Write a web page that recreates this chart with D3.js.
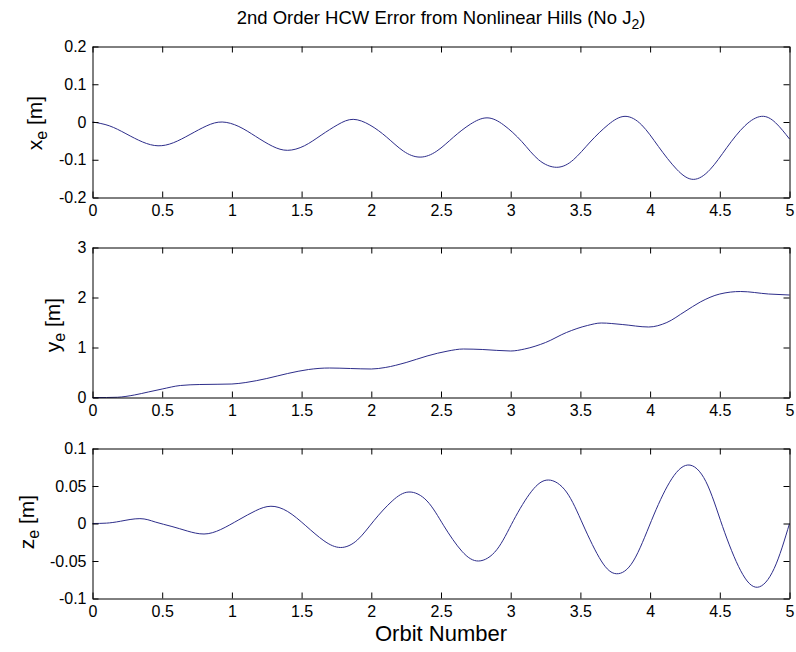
<!DOCTYPE html>
<html><head><meta charset="utf-8">
<script src="https://cdn.jsdelivr.net/npm/d3@7"></script>
<style>
body{margin:0;background:#fff}
svg text{font-family:"Liberation Sans",Arial,Helvetica,sans-serif;fill:#000}
</style>
</head><body>
<svg id="chart" width="796" height="652"></svg>
<script>
// ---------- data ----------
const orbitTicks = [0, 0.5, 1, 1.5, 2, 2.5, 3, 3.5, 4, 4.5, 5];
const orbitTickLabels = ["0", "0.5", "1", "1.5", "2", "2.5", "3", "3.5", "4", "4.5", "5"];

const xeTicks = [-0.2, -0.1, 0, 0.1, 0.2];
const xeTickLabels = ["-0.2", "-0.1", "0", "0.1", "0.2"];
const yeTicks = [0, 1, 2, 3];
const yeTickLabels = ["0", "1", "2", "3"];
const zeTicks = [-0.1, -0.05, 0, 0.05, 0.1];
const zeTickLabels = ["-0.1", "-0.05", "0", "0.05", "0.1"];

const xeOrbit = [0, 0.12, 0.24, 0.36, 0.47, 0.58, 0.70, 0.82, 0.93, 1.05, 1.17, 1.29, 1.40, 1.52, 1.64, 1.76, 1.87, 1.99, 2.11, 2.23, 2.35, 2.47, 2.59, 2.71, 2.83, 2.95, 3.08, 3.20, 3.33, 3.45, 3.57, 3.70, 3.82, 3.94, 4.06, 4.19, 4.31, 4.43, 4.55, 4.68, 4.80, 4.90, 5.0];
const xeValues = [0, -0.010, -0.031, -0.053, -0.063, -0.055, -0.033, -0.010, 0.0, -0.012, -0.038, -0.064, -0.075, -0.063, -0.035, -0.007, 0.007, -0.008, -0.040, -0.077, -0.093, -0.077, -0.040, -0.006, 0.011, -0.008, -0.052, -0.100, -0.120, -0.100, -0.053, -0.007, 0.015, -0.008, -0.065, -0.125, -0.152, -0.126, -0.068, -0.010, 0.015, -0.002, -0.045];

const yeOrbit = [0, 0.1, 0.18, 0.3, 0.4, 0.5, 0.63, 0.77, 0.9, 1.0, 1.1, 1.25, 1.4, 1.55, 1.7, 1.85, 2.0, 2.1, 2.25, 2.4, 2.55, 2.66, 2.8, 3.0, 3.1, 3.25, 3.4, 3.55, 3.65, 3.8, 3.99, 4.12, 4.25, 4.36, 4.5, 4.65, 4.85, 5.0];
const yeValues = [0, 0.0, 0.005, 0.05, 0.11, 0.17, 0.24, 0.26, 0.265, 0.27, 0.3, 0.38, 0.48, 0.56, 0.59, 0.58, 0.57, 0.6, 0.7, 0.83, 0.93, 0.97, 0.96, 0.93, 0.97, 1.1, 1.3, 1.44, 1.49, 1.46, 1.41, 1.5, 1.72, 1.91, 2.07, 2.12, 2.07, 2.05];

const zeOrbit = [0, 0.1, 0.2, 0.34, 0.45, 0.57, 0.68, 0.8, 0.92, 1.05, 1.17, 1.28, 1.4, 1.53, 1.66, 1.78, 1.9, 2.02, 2.15, 2.27, 2.4, 2.52, 2.65, 2.77, 2.9, 3.02, 3.15, 3.27, 3.4, 3.52, 3.65, 3.76, 3.88, 4.01, 4.14, 4.27, 4.4, 4.52, 4.65, 4.77, 4.89, 5.0];
const zeValues = [0, 0.0005, 0.003, 0.0065, 0.002, -0.004, -0.010, -0.014, -0.008, 0.005, 0.017, 0.023, 0.016, -0.003, -0.023, -0.032, -0.022, 0.004, 0.030, 0.042, 0.030, -0.003, -0.037, -0.050, -0.035, 0.004, 0.043, 0.058, 0.042, -0.002, -0.050, -0.067, -0.050, 0.004, 0.055, 0.078, 0.056, -0.004, -0.063, -0.085, -0.060, 0.0];

const titleMain = "2nd Order HCW Error from Nonlinear Hills (No J";
const titleSub = "2";
const titleEnd = ")";
const xLabel = "Orbit Number";

// ---------- layout ----------
const svg = d3.select("#chart");
const left = 92.5, right = 789.5;
const lineColor = "#2d2d8a";

const x = d3.scaleLinear().domain([0, 5]).range([left, right]);

const panels = [
  {top: 46.5, bottom: 197.5, domain: [-0.2, 0.2], ticks: xeTicks, labels: xeTickLabels, ox: xeOrbit, vals: xeValues, sym: "x", lx: 42, ly: 123, curve: d3.curveNatural},
  {top: 247.5, bottom: 397.5, domain: [0, 3], ticks: yeTicks, labels: yeTickLabels, ox: yeOrbit, vals: yeValues, sym: "y", lx: 60, ly: 325, curve: d3.curveMonotoneX},
  {top: 448.5, bottom: 598.5, domain: [-0.1, 0.1], ticks: zeTicks, labels: zeTickLabels, ox: zeOrbit, vals: zeValues, sym: "z", lx: 34, ly: 522, curve: d3.curveNatural}
];

const tickFont = 16;
const tickLen = 6;

panels.forEach(p => {
  const y = d3.scaleLinear().domain(p.domain).range([p.bottom, p.top]);
  const g = svg.append("g");

  const line = d3.line().x(d => x(d[0])).y(d => y(d[1])).curve(p.curve);
  g.append("path")
    .datum(p.ox.map((o, i) => [o, p.vals[i]]))
    .attr("d", line)
    .attr("fill", "none")
    .attr("stroke", lineColor)
    .attr("stroke-width", 1);

  const xb = g.append("g").attr("transform", `translate(0,${p.bottom})`)
    .call(d3.axisBottom(x).tickValues(orbitTicks).tickFormat((d, i) => orbitTickLabels[i])
      .tickSizeInner(-tickLen).tickSizeOuter(0).tickPadding(7));
  const xt = g.append("g").attr("transform", `translate(0,${p.top})`)
    .call(d3.axisTop(x).tickValues(orbitTicks).tickFormat("")
      .tickSizeInner(-tickLen).tickSizeOuter(0));
  const yl = g.append("g").attr("transform", `translate(${left},0)`)
    .call(d3.axisLeft(y).tickValues(p.ticks).tickFormat((d, i) => p.labels[i])
      .tickSizeInner(-tickLen).tickSizeOuter(0).tickPadding(6));
  const yr = g.append("g").attr("transform", `translate(${right},0)`)
    .call(d3.axisRight(y).tickValues(p.ticks).tickFormat("")
      .tickSizeInner(-tickLen).tickSizeOuter(0));

  [xb, xt, yl, yr].forEach(a => {
    a.selectAll("path.domain").attr("stroke", "#000").attr("stroke-width", 1);
    a.selectAll(".tick line").attr("stroke", "#000").attr("stroke-width", 1);
    a.selectAll("text").attr("font-size", tickFont)
      .attr("font-family", '"Liberation Sans",Arial,sans-serif').attr("fill", "#000");
  });

  const t = svg.append("text")
    .attr("transform", `translate(${p.lx},${p.ly}) rotate(-90)`)
    .attr("text-anchor", "middle")
    .attr("font-size", 21);
  t.append("tspan").text(p.sym);
  t.append("tspan").attr("font-size", 16).attr("dy", 5).text("e");
  t.append("tspan").attr("dy", -5).text(" [m]");
});

const title = svg.append("text")
  .attr("x", (left + right) / 2).attr("y", 24)
  .attr("text-anchor", "middle").attr("font-size", 18.5);
title.append("tspan").text(titleMain);
title.append("tspan").attr("font-size", 14).attr("dy", 5).text(titleSub);
title.append("tspan").attr("dy", -5).text(titleEnd);

svg.append("text")
  .attr("x", (left + right) / 2).attr("y", 641)
  .attr("text-anchor", "middle").attr("font-size", 22)
  .text(xLabel);
</script>
</body></html>
